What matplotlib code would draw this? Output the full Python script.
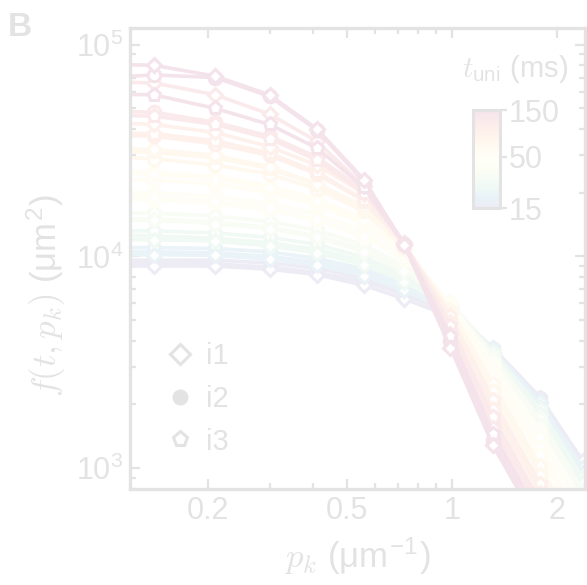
import numpy as np
import matplotlib
matplotlib.use('Agg')
import matplotlib.pyplot as plt
from matplotlib.colors import LogNorm, ListedColormap
from matplotlib.cm import ScalarMappable
from matplotlib.lines import Line2D
from matplotlib.ticker import FixedLocator, LogLocator, NullFormatter

plt.rcParams['font.family'] = ['Liberation Sans', 'DejaVu Sans']
plt.rcParams['mathtext.fontset'] = 'cm'

# ---------------- data ----------------
p_values = [0.10, 0.14, 0.21, 0.30, 0.41, 0.56, 0.73, 0.99, 1.31, 1.79, 2.37]
t_uni = [15, 20, 26, 33, 42, 55, 70, 90, 115, 150]

i1_values = [
    [9000, 9000, 9000, 8700, 8200, 7300, 6300, 5200, 3500, 2050, 1000],
    [10100, 10200, 10100, 9700, 9100, 8100, 6900, 5500, 3500, 1950, 950],
    [12000, 12000, 11800, 11200, 10400, 9100, 7600, 5700, 3400, 1800, 850],
    [14800, 14800, 14300, 13500, 12300, 10500, 8500, 5900, 3250, 1600, 740],
    [19200, 19000, 18200, 16900, 15000, 12500, 9700, 6000, 3000, 1400, 620],
    [25000, 24500, 23200, 21000, 18200, 14800, 10800, 5800, 2700, 1150, 500],
    [32500, 32000, 30000, 26500, 22000, 17300, 11300, 5400, 2300, 930, 400],
    [43000, 42000, 38500, 33000, 27000, 19800, 11600, 4900, 1900, 760, 320],
    [67000, 66000, 58000, 47000, 35000, 21500, 11600, 4300, 1550, 620, 260],
    [81000, 80000, 71000, 58000, 40000, 23000, 11300, 3700, 1280, 520, 220],
]
i2_values = [
    [9300, 9300, 9200, 8900, 8400, 7600, 6600, 5400, 3650, 2150, 1060],
    [10500, 10500, 10400, 10000, 9400, 8400, 7200, 5700, 3650, 2000, 980],
    [12600, 12500, 12200, 11600, 10800, 9500, 7900, 5900, 3500, 1850, 880],
    [15100, 15000, 14500, 13700, 12500, 10800, 8700, 6000, 3350, 1650, 760],
    [18600, 18500, 17800, 16500, 14800, 12400, 9600, 6000, 3100, 1450, 640],
    [23200, 23000, 22000, 20000, 17500, 14300, 10400, 5800, 2800, 1200, 520],
    [29500, 29000, 27000, 24500, 20800, 16300, 11000, 5500, 2400, 980, 420],
    [37500, 37000, 34000, 30000, 24500, 18300, 11300, 5000, 2000, 800, 340],
    [48500, 48000, 43000, 37000, 29500, 20500, 11500, 4500, 1650, 650, 280],
    [70000, 72000, 70000, 57000, 39500, 22500, 11400, 4000, 1350, 560, 240],
]
i3_values = [
    [9600, 9600, 9600, 9300, 8800, 7900, 6800, 5500, 3700, 2150, 1080],
    [11000, 11000, 10900, 10500, 9800, 8700, 7400, 5800, 3650, 2050, 1000],
    [13200, 13200, 12900, 12300, 11400, 9900, 8200, 6000, 3550, 1900, 900],
    [16000, 16000, 15500, 14600, 13300, 11300, 9000, 6100, 3400, 1700, 780],
    [20000, 20000, 19200, 17800, 15900, 13100, 9900, 6100, 3150, 1500, 660],
    [25500, 25000, 23800, 21600, 18700, 15000, 10700, 5900, 2850, 1250, 540],
    [31500, 31000, 29200, 26000, 21800, 16800, 11200, 5600, 2500, 1020, 440],
    [38500, 38000, 35200, 30800, 25000, 18500, 11400, 5200, 2100, 840, 360],
    [46500, 46000, 42000, 36000, 28500, 20000, 11500, 4700, 1750, 690, 300],
    [58500, 58000, 50000, 42000, 32500, 21200, 11400, 4200, 1450, 580, 250],
]
x_tick_values = [0.2, 0.5, 1, 2]
x_tick_labels = ['0.2', '0.5', '1', '2']
cbar_ticks = [15, 50, 150]
cbar_labels = ['15', '50', '150']
legend_labels = ['i1', 'i2', 'i3']

# ---------------- style ----------------
FADE = 0.11
def fade(rgb):
    rgb = np.asarray(rgb, dtype=float)
    return 1 - FADE * (1 - rgb)

gray = tuple(fade([0, 0, 0]))
base = plt.get_cmap('Spectral_r')(np.linspace(0, 1, 256))[:, :3]
cmap = ListedColormap(fade(base))
norm = LogNorm(vmin=15, vmax=150)

fig = plt.figure(figsize=(5.87, 5.85), dpi=100)
ax = fig.add_axes([130/587, 1-489/585, 455/587, 461/585])
ax.set_xscale('log')
ax.set_yscale('log')

datasets = [(i2_values, 'o', 9), (i3_values, 'p', 9.5), (i1_values, 'D', 7.5)]
for j, t in enumerate(t_uni):
    col = cmap(norm(t))
    for vals, mk, ms in datasets:
        ax.plot(p_values, vals[j], color=col, lw=2.6, marker=mk, ms=ms,
                mfc='white', mec=col, mew=2.2, zorder=2)

ax.set_xlim(0.1195, 2.405)
ax.set_ylim(796, 1.2e5)

ax.xaxis.set_major_locator(FixedLocator(x_tick_values))
ax.set_xticklabels(x_tick_labels)
ax.xaxis.set_minor_locator(LogLocator(base=10, subs=np.arange(2, 10)))
ax.xaxis.set_minor_formatter(NullFormatter())
ax.yaxis.set_major_locator(LogLocator(base=10))
ax.yaxis.set_minor_locator(LogLocator(base=10, subs=np.arange(2, 10)))
ax.yaxis.set_minor_formatter(NullFormatter())

ax.tick_params(which='both', direction='in', top=True, right=True,
               color=gray, labelcolor=gray, width=1.6)
ax.tick_params(which='major', length=7, labelsize=22, pad=5)
ax.tick_params(which='minor', length=4)
for s in ax.spines.values():
    s.set_color(gray)
    s.set_linewidth(2.4)

ax.set_xlabel(r'$p_k$ (μm$^{\mathdefault{-1}}$)', fontsize=25, color=gray)
ax.xaxis.set_label_coords(0.5, -0.1)
ax.set_ylabel(r'$f(t, p_k)$ (μm$^{\mathdefault{2}}$)', fontsize=25, color=gray)
ax.yaxis.set_label_coords(-0.137, 0.42)

handles = [
    Line2D([], [], ls='none', marker='D', ms=10, mfc='white', mec=gray, mew=2.2),
    Line2D([], [], ls='none', marker='o', ms=10, mfc=gray, mec=gray, mew=1.5),
    Line2D([], [], ls='none', marker='p', ms=11, mfc='white', mec=gray, mew=2.2),
]
leg = ax.legend(handles, legend_labels, frameon=False, loc='upper left',
                bbox_to_anchor=(0.02, 0.375), fontsize=21, handlelength=1.0,
                handletextpad=0.4, labelspacing=0.5, borderpad=0.4)
for txt in leg.get_texts():
    txt.set_color(gray)

# colorbar
cax = fig.add_axes([473/587, 1-208/585, 27/587, 98/585])
cb = fig.colorbar(ScalarMappable(norm=norm, cmap=cmap), cax=cax)
cb.set_ticks(cbar_ticks)
cb.set_ticklabels(cbar_labels)
cax.minorticks_off()
cax.tick_params(color=gray, labelcolor=gray, labelsize=22, length=5, width=1.6, pad=1)
cb.outline.set_edgecolor(gray)
cb.outline.set_linewidth(2.2)
fig.text(515/587, 1-69/585, r'$t_{\mathdefault{uni}}$ (ms)', fontsize=21,
         color=gray, ha='center', va='center')

fig.text(32/587, 1-12/585, 'B', fontsize=24, fontweight='bold', color=gray,
         ha='right', va='top')

fig.savefig('out.png', dpi=100)
